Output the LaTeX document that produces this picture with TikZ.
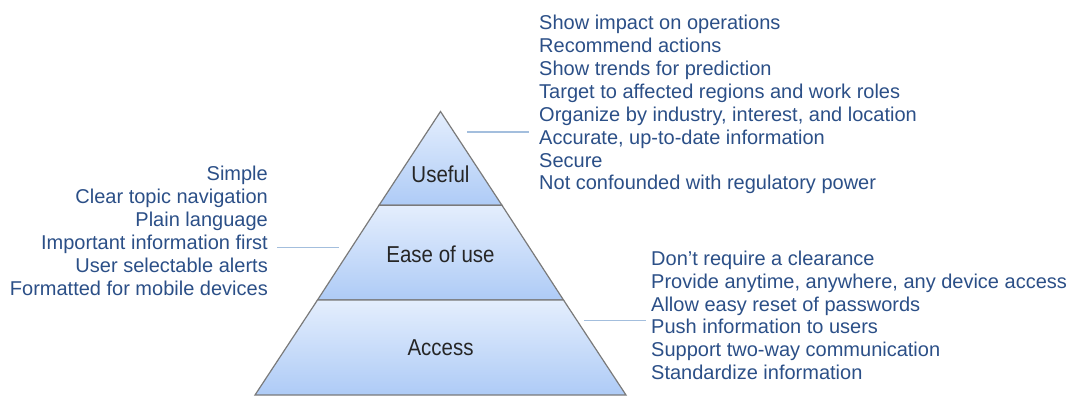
\documentclass[tikz,border=0pt]{standalone}
\usepackage{fontspec}
\setmainfont{Liberation Sans}
\definecolor{listblue}{HTML}{2B4F87}
\definecolor{linkblue}{HTML}{A3BEDD}
\definecolor{bandtop}{HTML}{E4EEFD}
\definecolor{bandbot}{HTML}{AECBF6}
\definecolor{edgegray}{HTML}{7A7A7A}
\begin{document}
\begin{tikzpicture}[x=1pt,y=-1pt]
        \useasboundingbox (0,0) rectangle (1070,397);
        \begin{scope}
          % pyramid bands
          \begin{scope}[every path/.style={top color=bandtop, bottom color=bandbot, draw=edgegray, line width=1.2pt}]
            \shade[draw] (440.5,111.5) -- (502,205.3) -- (379,205.3) -- cycle;
            \shade[draw] (379,205.3) -- (502,205.3) -- (563.5,300) -- (317.5,300) -- cycle;
            \shade[draw] (317.5,300) -- (563.5,300) -- (626,395) -- (255,395) -- cycle;
          \end{scope}
          \begin{scope}[every node/.style={text=black!85, font=\fontsize{23}{26}\selectfont, inner sep=0}]
            \node (useful) at (440.5,174) {\scalebox{0.89}[1]{Useful}};
            \node (ease) at (440.5,254) {\scalebox{0.89}[1]{Ease of use}};
            \node (access) at (440.5,348) {\scalebox{0.89}[1]{Access}};
          \end{scope}
          % lists
          \begin{scope}[every node/.style={text=listblue, font=\fontsize{20}{22.9}\selectfont, inner sep=0}]
            \node[anchor=north west, align=left] (top) at (539,15) {Show impact on operations\\Recommend actions\\Show trends for prediction\\Target to affected regions and work roles\\Organize by industry, interest, and location\\Accurate, up-to-date information\\Secure\\Not confounded with regulatory power};
            \node[anchor=north east, align=right] (left) at (268,166) {Simple\\Clear topic navigation\\Plain language\\Important information first\\User selectable alerts\\Formatted for mobile devices};
            \node[anchor=north west, align=left] (right) at (651,250.5) {Don’t require a clearance\\Provide anytime, anywhere, any device access\\Allow easy reset of passwords\\Push information to users\\Support two-way communication\\Standardize information};
          \end{scope}
          \coordinate (u1) at (467,132);
          \coordinate (u2) at (529,132);
          \coordinate (e1) at (277,247.5);
          \coordinate (e2) at (339,247.5);
          \coordinate (a1) at (584,320.7);
          \coordinate (a2) at (646,320.7);
          \begin{scope}[every edge/.style={draw=linkblue, line width=1.4pt}]
            \path (u1) edge (u2);
            \path (e1) edge (e2);
            \path (a1) edge (a2);
          \end{scope}
        \end{scope}
      \end{tikzpicture}
\end{document}
